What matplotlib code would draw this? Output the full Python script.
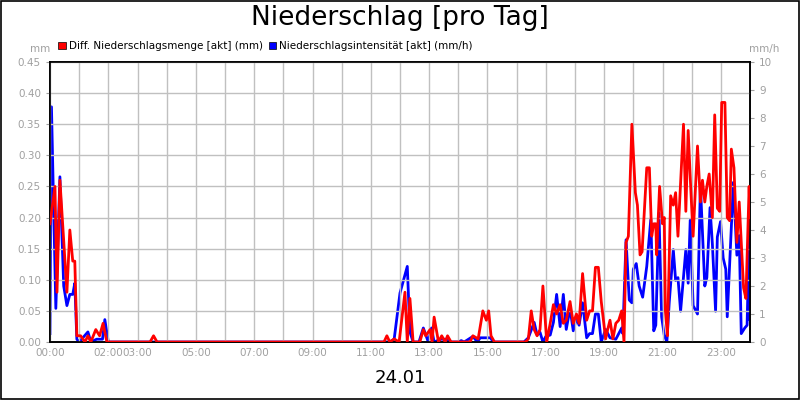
import matplotlib
matplotlib.use("Agg")
import matplotlib.pyplot as plt

# Red: Diff. Niederschlagsmenge (mm), time in hours
red_t = [0.0, 0.17, 0.24, 0.34, 0.58, 0.68, 0.78, 0.85, 0.92, 1.05, 1.2, 1.3, 1.4, 1.57, 1.7, 1.82, 1.95,
         3.43, 3.55, 3.67, 11.45, 11.55, 11.65, 11.8, 11.97, 12.17, 12.25, 12.34, 12.45, 12.68, 12.8, 12.88,
         13.03, 13.1, 13.17, 13.32, 13.43, 13.55, 13.63, 13.75, 14.4, 14.5, 14.68, 14.84, 14.96, 15.04, 15.12,
         15.24, 16.3, 16.4, 16.5, 16.6, 16.7, 16.8, 16.9, 17.03, 17.15, 17.26, 17.37, 17.49, 17.6, 17.7, 17.83,
         17.94, 18.05, 18.14, 18.26, 18.4, 18.5, 18.6, 18.7, 18.8, 18.9, 19.05, 19.12, 19.2, 19.3, 19.4, 19.5,
         19.6, 19.68, 19.75, 19.83, 19.95, 20.07, 20.14, 20.23, 20.3, 20.46, 20.55, 20.63, 20.7, 20.77, 20.8,
         20.9, 21.0, 21.06, 21.1, 21.17, 21.28, 21.37, 21.45, 21.53, 21.72, 21.8, 21.88, 21.97, 22.05, 22.2,
         22.3, 22.37, 22.45, 22.52, 22.6, 22.71, 22.79, 22.88, 22.96, 23.03, 23.14, 23.22, 23.3, 23.36, 23.45,
         23.55, 23.63, 23.7, 23.78, 23.86, 23.97, 24.0]
red_v = [0.19, 0.25, 0.08, 0.26, 0.08, 0.18, 0.13, 0.13, 0.01, 0.01, 0.0, 0.01, 0.0, 0.02, 0.01, 0.03, 0.0,
         0.0, 0.01, 0.0, 0.0, 0.01, 0.0, 0.005, 0.0, 0.08, 0.0, 0.07, 0.0, 0.0, 0.02, 0.01,
         0.02, 0.0, 0.04, 0.0, 0.01, 0.0, 0.01, 0.0, 0.0, 0.01, 0.005, 0.05, 0.035, 0.05, 0.01,
         0.0, 0.0, 0.005, 0.05, 0.02, 0.01, 0.02, 0.09, 0.0, 0.03, 0.06, 0.045, 0.06, 0.03, 0.035, 0.065,
         0.03, 0.045, 0.03, 0.11, 0.035, 0.05, 0.05, 0.12, 0.12, 0.065, 0.005, 0.02, 0.035, 0.005, 0.03, 0.035,
         0.05, 0.0, 0.16, 0.17, 0.35, 0.24, 0.22, 0.14, 0.145, 0.28, 0.28, 0.17, 0.19, 0.19, 0.14,
         0.25, 0.19, 0.2, 0.05, 0.01, 0.235, 0.22, 0.24, 0.17, 0.35, 0.21, 0.34, 0.245, 0.17, 0.315,
         0.225, 0.26, 0.225, 0.25, 0.27, 0.2, 0.365, 0.215, 0.21, 0.385, 0.385, 0.2, 0.195, 0.31, 0.28,
         0.16, 0.225, 0.16, 0.087, 0.07, 0.25, 0.2]

# Blue: Niederschlagsintensität (mm/h)
blue_t = [0.0, 0.05, 0.2, 0.34, 0.47, 0.58, 0.68, 0.78, 0.85, 0.92, 1.0, 1.3, 1.4, 1.6, 1.8, 1.88, 2.0,
          11.65, 11.8, 12.0, 12.25, 12.34, 12.45, 12.65, 12.8, 12.97, 13.08, 13.17, 13.4, 13.55, 13.75, 14.0,
          14.1, 14.2, 14.5, 14.65, 14.75, 15.1, 15.2, 16.25, 16.4, 16.6, 16.7, 16.8, 16.9, 17.0, 17.15, 17.26,
          17.37, 17.49, 17.6, 17.7, 17.83, 17.94, 18.05, 18.14, 18.26, 18.4, 18.5, 18.6, 18.7, 18.8, 18.9,
          19.05, 19.2, 19.4, 19.6, 19.64, 19.75, 19.86, 19.95, 20.0, 20.1, 20.2, 20.32, 20.46, 20.6, 20.7,
          20.77, 20.88, 20.97, 21.06, 21.15, 21.23, 21.37, 21.45, 21.53, 21.62, 21.8, 21.88, 21.95, 22.05,
          22.2, 22.3, 22.45, 22.52, 22.63, 22.71, 22.82, 22.88, 22.99, 23.08, 23.17, 23.22, 23.43, 23.55,
          23.63, 23.7, 23.82, 23.9, 23.97, 24.0]
blue_v = [0.3, 8.4, 1.2, 5.9, 2.0, 1.3, 1.7, 1.7, 2.1, 0.1, 0.0, 0.36, 0.0, 0.1, 0.1, 0.8, 0.0,
          0.0, 0.1, 1.75, 2.7, 0.36, 0.0, 0.0, 0.5, 0.0, 0.5, 0.0, 0.1, 0.1, 0.0, 0.0,
          0.05, 0.0, 0.2, 0.0, 0.15, 0.15, 0.0, 0.0, 0.15, 0.7, 0.25, 0.35, 0.0, 0.2, 0.25, 0.7,
          1.7, 0.55, 1.7, 0.45, 1.2, 0.4, 0.85, 0.6, 1.4, 0.15, 0.3, 0.3, 1.0, 1.0, 0.0,
          0.45, 0.15, 0.1, 0.5, 0.3, 3.65, 1.5, 1.4, 2.6, 2.8, 2.0, 1.6, 2.7, 4.4, 0.4,
          0.6, 4.6, 0.9, 0.25, 0.0, 1.4, 3.3, 2.2, 2.3, 1.1, 3.3, 2.1, 4.35, 1.3,
          1.0, 5.6, 2.0, 2.3, 4.8, 3.5, 1.1, 3.75, 4.3, 3.0, 2.6, 0.9, 5.7, 3.1,
          3.8, 0.3, 0.5, 0.6, 3.7, 0.8]

x_labels = {0: "00:00", 2: "02:00", 3: "03:00", 5: "05:00", 7: "07:00", 9: "09:00", 11: "11:00",
            13: "13:00", 15: "15:00", 17: "17:00", 19: "19:00", 21: "21:00", 23: "23:00"}
left_ticks = [0.0, 0.05, 0.10, 0.15, 0.20, 0.25, 0.30, 0.35, 0.40, 0.45]
right_ticks = list(range(0, 11))

fig = plt.figure(figsize=(8, 4), dpi=100)
fig.patch.set_facecolor("white")
fig.patches.append(plt.Rectangle((0.001, 0.002), 0.998, 0.996, transform=fig.transFigure,
                                 fill=False, edgecolor="black", linewidth=1.2))
ax = fig.add_axes([0.0625, 0.145, 0.875, 0.70])
ax2 = ax.twinx()

grey = "#a0a0a0"
ax.set_xlim(0, 24)
ax.set_ylim(0, 0.45)
ax2.set_ylim(0, 10)
ax.set_xticks(range(0, 25))
ax.set_xticklabels([x_labels.get(h, "") for h in range(0, 25)])
ax.set_yticks(left_ticks)
ax.set_yticklabels([f"{v:.2f}" for v in left_ticks])
ax2.set_yticks(right_ticks)
ax.grid(True, color="#c0c0c0", linewidth=1)
for a in (ax, ax2):
    a.tick_params(colors=grey, labelsize=7.5, length=3, width=0.8)
    a.tick_params(axis="both", labelcolor=grey)
    for s in a.spines.values():
        s.set_color("black")
        s.set_linewidth(1.2)
ax.tick_params(axis="x", length=0, pad=4)

ax2.plot(blue_t, blue_v, color="#0000ff", linewidth=2, zorder=3)
ax.plot(red_t, red_v, color="#ff0000", linewidth=2, zorder=4)
ax.set_zorder(ax2.get_zorder() + 1)
ax.patch.set_visible(False)

fig.text(0.5, 0.955, "Niederschlag [pro Tag]", ha="center", va="center", fontsize=19)
fig.text(0.5, 0.055, "24.01", ha="center", va="center", fontsize=13)
fig.text(0.05, 0.878, "mm", ha="center", va="center", fontsize=7.5, color=grey)
fig.text(0.955, 0.878, "mm/h", ha="center", va="center", fontsize=7.5, color=grey)

fig.patches.append(plt.Rectangle((0.073, 0.877), 0.009, 0.018, transform=fig.transFigure,
                                 facecolor="#ff0000", edgecolor="black", linewidth=0.5))
fig.text(0.086, 0.886, "Diff. Niederschlagsmenge [akt] (mm)", va="center", fontsize=7.5)
fig.patches.append(plt.Rectangle((0.336, 0.877), 0.009, 0.018, transform=fig.transFigure,
                                 facecolor="#0000ff", edgecolor="black", linewidth=0.5))
fig.text(0.349, 0.886, "Niederschlagsintensität [akt] (mm/h)", va="center", fontsize=7.5)

fig.savefig("out.png", dpi=100)
